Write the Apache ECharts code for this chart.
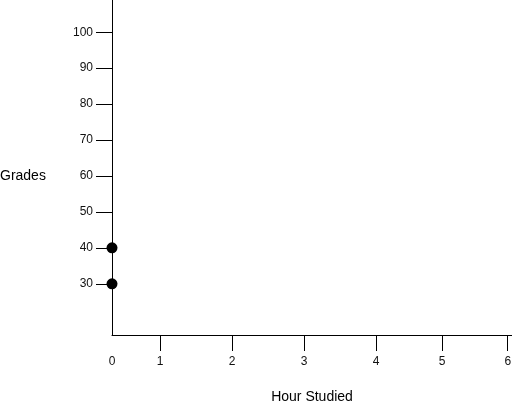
<!DOCTYPE html>
<html>
<head>
<meta charset="utf-8">
<script src="https://cdn.jsdelivr.net/npm/echarts@6/dist/echarts.min.js"></script>
<style>
    html, body { margin: 0; padding: 0; background: #fff; }
    #main { width: 512px; height: 404px; }
</style>
</head>
<body>
<div id="main"></div>
<script type="text/javascript">

    // hour labels and where each one sits on the (uneven) hour axis of the original drawing
    var hourLabels = ['0', '1', '2', '3', '4', '5', '6'];
    var hourPos = [0, 0.667, 1.667, 2.667, 3.667, 4.583, 5.496];

    // grade tick labels
    var gradeTicks = [30, 40, 50, 60, 70, 80, 90, 100];

    // the two plotted points (hour index, grade)
    var pointHours = [0, 0];
    var pointGrades = [40, 30];

    var data = [];
    for (var i = 0; i < pointHours.length; i++) {
        data.push([hourPos[pointHours[i]], pointGrades[i]]);
    }

    function hourName(v) {
        for (var i = 0; i < hourPos.length; i++) {
            if (Math.abs(hourPos[i] - v) < 1e-6) return hourLabels[i];
        }
        return '';
    }

    var myChart = echarts.init(document.getElementById('main'));

    var font = 'Liberation Sans, Arial, sans-serif';

    var option = {
        animation: false,
        textStyle: { fontFamily: font },
        grid: { left: 112, right: 0, top: 0, bottom: 69, containLabel: false, outerBoundsMode: 'none' },
        // y axis title sits level with the 60 tick in the original
        graphic: [{
            type: 'text',
            left: 0,
            top: 169,
            style: { text: 'Grades', fill: '#000', fontSize: 14, fontFamily: font }
        }],
        xAxis: {
            type: 'value',
            min: 0,
            max: 400 / 72,
            name: 'Hour Studied',
            nameLocation: 'middle',
            nameGap: 55,
            nameTextStyle: { color: '#000', fontSize: 14, fontFamily: font },
            axisLine: { show: true, onZero: false, lineStyle: { color: '#000', width: 1 } },
            axisTick: {
                show: true, length: 16, inside: false,
                customValues: hourPos.slice(1),
                lineStyle: { color: '#000' }
            },
            axisLabel: {
                customValues: hourPos,
                margin: 21,
                color: '#111',
                fontSize: 12,
                fontFamily: font,
                formatter: function (v) { return hourName(v); }
            },
            splitLine: { show: false }
        },
        yAxis: {
            type: 'value',
            min: 15.75,
            max: 108.97,
            axisLine: { show: true, onZero: false, lineStyle: { color: '#000', width: 1 } },
            axisTick: {
                show: true, length: 16, inside: false,
                customValues: gradeTicks,
                lineStyle: { color: '#000' }
            },
            axisLabel: {
                customValues: gradeTicks,
                margin: 19,
                color: '#111',
                fontSize: 12,
                fontFamily: font
            },
            splitLine: { show: false }
        },
        series: [{
            type: 'scatter',
            symbol: 'circle',
            symbolSize: 11,
            itemStyle: { color: '#000', opacity: 1 },
            data: data
        }]
    };

    myChart.setOption(option);

</script>
</body>
</html>
